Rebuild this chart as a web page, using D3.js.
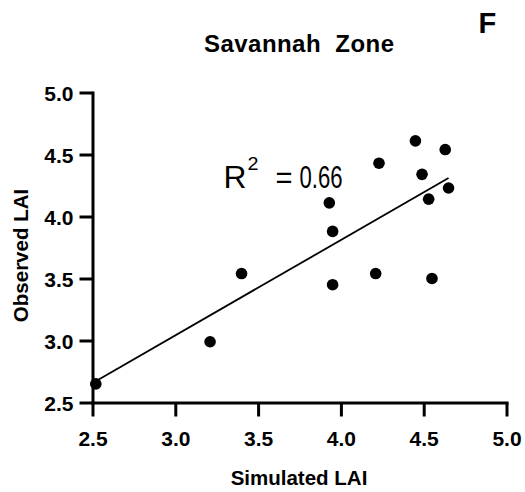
<!DOCTYPE html>
<html>
<head>
<meta charset="utf-8">
<script src="https://cdn.jsdelivr.net/npm/d3@7"></script>
<style>
  html, body { margin: 0; padding: 0; background: #fff; }
  svg { display: block; font-family: "Liberation Sans", Arial, Helvetica, sans-serif; }
</style>
</head>
<body>
<svg id="chart" width="525" height="492"></svg>
<script>
// Data
const simulatedLAI = [4.45, 4.63, 4.23, 4.49, 4.65, 4.53, 3.93, 3.95, 3.95, 4.21, 4.55, 3.40, 3.21, 2.52];
const observedLAI  = [4.61, 4.54, 4.43, 4.34, 4.23, 4.14, 4.11, 3.88, 3.45, 3.54, 3.50, 3.54, 2.99, 2.65];
const fitX = [2.53, 4.65];
const fitY = [2.68, 4.31];
const xTicks = [2.5, 3.0, 3.5, 4.0, 4.5, 5.0];
const yTicks = [2.5, 3.0, 3.5, 4.0, 4.5, 5.0];
const titleText = "Savannah\u00A0\u00A0Zone";
const panelLabel = "F";
const xTitle = "Simulated LAI";
const yTitle = "Observed LAI";
const r2Value = "0.66";

const svg = d3.select("#chart");
const x = d3.scaleLinear().domain([2.5, 5]).range([92.5, 506.5]);
const y = d3.scaleLinear().domain([2.5, 5]).range([402.5, 92.5]);

// Axes
const xAxis = d3.axisBottom(x).tickValues(xTicks).tickFormat(d3.format(".1f")).tickSize(14).tickSizeOuter(0).tickPadding(14.5);
const yAxis = d3.axisLeft(y).tickValues(yTicks).tickFormat(d3.format(".1f")).tickSize(13).tickSizeOuter(0).tickPadding(6);

const gx = svg.append("g").attr("transform", `translate(0,${y(2.5)})`).call(xAxis);
const gy = svg.append("g").attr("transform", `translate(${x(2.5)},0)`).call(yAxis);

[gx, gy].forEach(g => {
  g.select(".domain").attr("stroke", "#000").attr("stroke-width", 3).attr("stroke-linecap", "square");
  g.selectAll(".tick line").attr("stroke", "#000").attr("stroke-width", 3);
  g.selectAll(".tick text")
    .attr("fill", "#000")
    .style("font-family", '"Liberation Sans", Arial, sans-serif')
    .style("font-weight", "bold")
    .style("font-size", "21px");
});
gx.selectAll(".tick text").attr("dy", "0.71em");
gy.selectAll(".tick text").attr("dy", "0.36em");

// Fit line
const fitData = fitX.map((v, i) => [v, fitY[i]]);
svg.append("path")
  .datum(fitData)
  .attr("fill", "none")
  .attr("stroke", "#000")
  .attr("stroke-width", 1.8)
  .attr("d", d3.line().x(d => x(d[0])).y(d => y(d[1])));

// Points
const pts = simulatedLAI.map((v, i) => [v, observedLAI[i]]);
svg.append("g").selectAll("circle")
  .data(pts)
  .join("circle")
  .attr("cx", d => x(d[0]))
  .attr("cy", d => y(d[1]))
  .attr("r", 5.8)
  .attr("fill", "#000");

// Title
svg.append("text")
  .attr("x", 204).attr("y", 52)
  .style("font-weight", "bold").style("font-size", "24px")
  .attr("textLength", 190).attr("lengthAdjust", "spacing")
  .text(titleText);

// Panel label
svg.append("text")
  .attr("x", 478.5).attr("y", 32.5)
  .style("font-weight", "bold").style("font-size", "29px")
  .text(panelLabel);

// Axis titles
svg.append("text")
  .attr("x", 299).attr("y", 485)
  .attr("text-anchor", "middle")
  .style("font-weight", "bold").style("font-size", "20.5px")
  .text(xTitle);

svg.append("text")
  .attr("transform", "translate(27.5,255.5) rotate(-90)")
  .attr("text-anchor", "middle")
  .style("font-weight", "bold").style("font-size", "20.5px")
  .text(yTitle);

// R^2 annotation
const r2 = svg.append("g");
r2.append("text")
  .attr("x", 223.5).attr("y", 187.5)
  .style("font-size", "31.5px")
  .attr("textLength", 23).attr("lengthAdjust", "spacingAndGlyphs")
  .text("R");
r2.append("text")
  .attr("x", 247.5).attr("y", 170)
  .style("font-size", "19px")
  .attr("textLength", 11).attr("lengthAdjust", "spacingAndGlyphs")
  .text("2");
r2.append("text")
  .attr("x", 275.5).attr("y", 187.5)
  .style("font-size", "31.5px")
  .attr("textLength", 17).attr("lengthAdjust", "spacingAndGlyphs")
  .text("=");
r2.append("text")
  .attr("x", 299.5).attr("y", 187.5)
  .style("font-size", "31.5px")
  .attr("textLength", 43).attr("lengthAdjust", "spacingAndGlyphs")
  .text(r2Value);
</script>
</body>
</html>
